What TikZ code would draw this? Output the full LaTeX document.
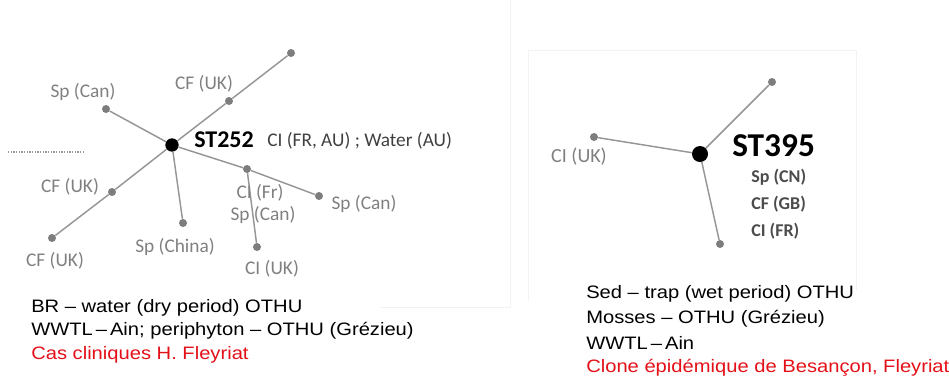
\documentclass[tikz,border=0pt]{standalone}
\usepackage{fontspec}
\setmainfont{Liberation Sans}[FakeStretch=1.12]
\newfontfamily\lblfont{Carlito}
\definecolor{capred}{RGB}{228,16,24}
\definecolor{edgegray}{RGB}{150,150,150}
\definecolor{dotgray}{RGB}{125,125,125}
\definecolor{lblgray}{RGB}{128,128,128}
\definecolor{panelline}{RGB}{243,243,243}
\begin{document}
\begin{tikzpicture}[x=0.75pt,y=-0.75pt,
  hub/.style={circle,fill=black,inner sep=0pt,minimum size=10pt},
  leaf/.style={circle,fill=dotgray,inner sep=0pt,minimum size=6pt},
  link/.style={draw=edgegray,line width=1.1pt},
  lbl/.style={font=\lblfont\fontsize{14.5}{16}\selectfont,text=lblgray,inner sep=0pt},
  dlbl/.style={font=\lblfont\bfseries\fontsize{13.5}{15}\selectfont,text=black!70,inner sep=0pt,anchor=west},
  note/.style={font=\fontsize{13.5}{15}\selectfont,inner sep=0pt,anchor=west}]
\useasboundingbox (0,0) rectangle (949,376);

% faint panel edges
\draw[panelline] (510,0) -- (510,307) -- (380,307);
\draw[panelline] (528,300) -- (528,50) -- (856,50) -- (856,290);

% ---------- ST252 network ----------
\node[hub] (c1) at (172,145) {};
\node[leaf] (ur) at (291,53) {};
\node[leaf] (um) at (229,101) {};
\node[leaf] (ul) at (106,109) {};
\node[leaf] (lm) at (112,192) {};
\node[leaf] (ll) at (52,238) {};
\node[leaf] (sc) at (183,223) {};
\node[leaf] (fr) at (247,169) {};
\node[leaf] (rc) at (319,196) {};
\node[leaf] (cu) at (257,247) {};

\draw[link] (c1) -- (um) -- (ur);
\draw[link] (c1) -- (ul);
\draw[link] (c1) -- (lm) -- (ll);
\draw[link] (c1) -- (sc);
\draw[link] (c1) -- (fr) -- (rc);
\draw[link] (fr) -- (cu);

\coordinate (dl) at (8,152);
\coordinate (dr) at (85,152);
\draw[edgegray,line width=0.8pt,dash pattern=on 1pt off 1pt] (dl) -- (dr);

\node[lbl] (l-ul) at (83,92) {Sp (Can)};
\node[lbl] (l-um) at (204,84) {CF (UK)};
\node[font=\lblfont\bfseries\fontsize{18}{20}\selectfont,inner sep=0pt,anchor=west] (t1) at (194,140) {ST252};
\node[lbl,text=black!75,anchor=west] (t1x) at (267,141) {CI (FR, AU) ; Water (AU)};
\node[lbl] (l-lm) at (70,187) {CF (UK)};
\node[lbl] (l-ll) at (55,261) {CF (UK)};
\node[lbl] (l-sc) at (175,247) {Sp (China)};
\node[lbl] (l-fr) at (260,193) {CI (Fr)};
\node[lbl] (l-fr2) at (263,215) {Sp (Can)};
\node[lbl] (l-rc) at (364,204) {Sp (Can)};
\node[lbl] (l-cu) at (272,269) {CI (UK)};

% ---------- ST395 network ----------
\node[hub,minimum size=12pt] (c2) at (700,154) {};
\node[leaf] (r1) at (772,82) {};
\node[leaf] (r2) at (594,137) {};
\node[leaf] (r3) at (720,244) {};
\draw[link] (c2) -- (r1);
\draw[link] (c2) -- (r2);
\draw[link] (c2) -- (r3);

\node[lbl,font=\lblfont\fontsize{15}{17}\selectfont] (l-r2) at (579,157) {CI (UK)};
\node[font=\lblfont\bfseries\fontsize{25}{27}\selectfont,inner sep=0pt,anchor=west] (t2) at (732,146) {ST395};
\node[dlbl] (s1) at (751,177) {Sp (CN)};
\node[dlbl] (s2) at (751,204) {CF (GB)};
\node[dlbl] (s3) at (751,231) {CI (FR)};

% ---------- captions ----------
\node[note] (a1) at (31,308) {BR – water (dry period) OTHU};
\node[note] (a2) at (31,331) {WWTL\,–\,Ain; periphyton – OTHU (Grézieu)};
\node[note,text=capred] (a3) at (31,355) {Cas cliniques H. Fleyriat};

\node[note] (b1) at (586,294) {Sed – trap (wet period) OTHU};
\node[note] (b2) at (586,319) {Mosses – OTHU (Grézieu)};
\node[note] (b3) at (586,343) {WWTL\,–\,Ain};
\node[note,text=capred] (b4) at (586,368) {Clone épidémique de Besançon, Fleyriat};
\end{tikzpicture}
\end{document}
